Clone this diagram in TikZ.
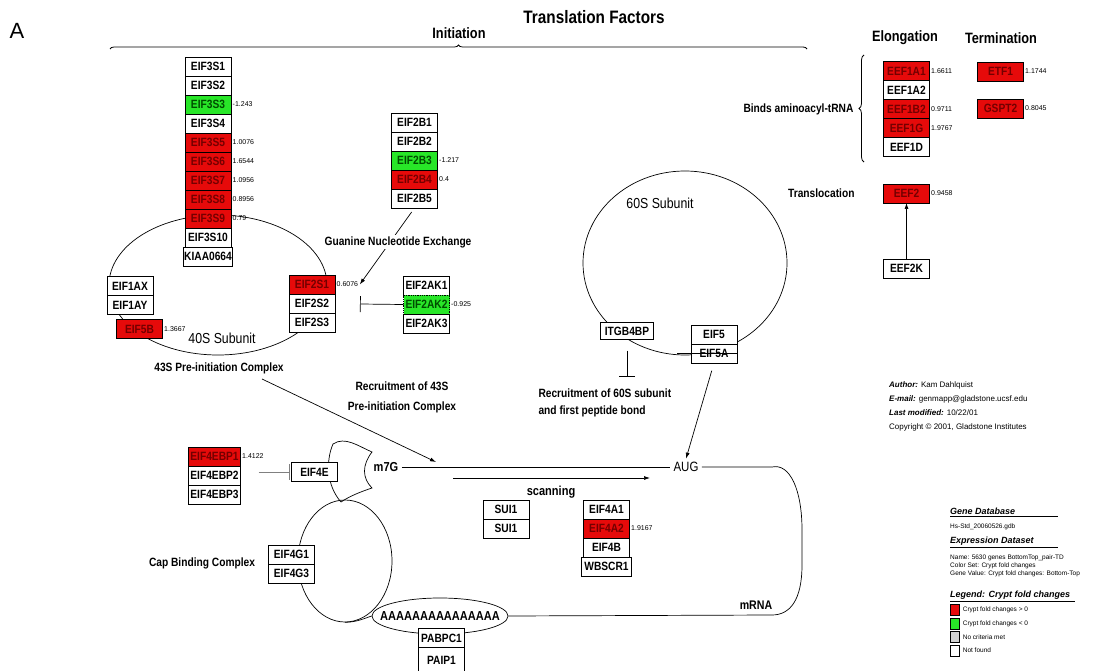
\documentclass[tikz,border=0pt]{standalone}
\usepackage{fontspec}
\setmainfont{Liberation Sans}
\newfontfamily\narrowsans[FakeStretch=0.85]{Liberation Sans}
\usetikzlibrary{arrows.meta,positioning,shapes.geometric,decorations.pathreplacing}

\definecolor{foldup}{RGB}{230,10,10}
\definecolor{folddown}{RGB}{40,230,40}
\definecolor{nocriteria}{RGB}{210,210,210}

\begin{document}
\begin{tikzpicture}[
    x=1pt, y=-1pt,
    node distance=0pt,
    arrow/.style={line width=0.7pt, -{Latex[length=6pt,width=4pt]}},
    inhibit/.style={line width=0.7pt, -{Bar[width=16pt]}},
    gene/.style={draw, line width=0.8pt, fill=white, minimum width=46pt, minimum height=19pt, inner sep=1pt, outer sep=0pt, font=\narrowsans\bfseries\fontsize{12}{12}\selectfont},
    up/.style={gene, fill=foldup, text=red!45!black},
    down/.style={gene, fill=folddown, text=green!30!black},
    value/.style={font=\fontsize{7}{7}\selectfont, inner sep=1.5pt, text=black},
    heading/.style={font=\narrowsans\bfseries\fontsize{12}{12}\selectfont},
    subunit/.style={draw, line width=0.7pt, ellipse, inner sep=0pt},
    legend/.style={anchor=west, inner sep=0pt, font=\fontsize{6.5}{7}\selectfont},
    legend title/.style={anchor=west, inner sep=0pt, font=\bfseries\itshape\fontsize{9}{9}\selectfont},
    swatch/.style={draw, line width=0.6pt, minimum width=9pt, minimum height=11pt, inner sep=0pt},
  ]
\useasboundingbox (0,0) rectangle (1111,671);

% subunits and mRNA loop
\node[subunit, minimum width=218pt, minimum height=140pt] (small subunit) at (218,285) {};
\node[subunit, minimum width=204pt, minimum height=184pt] (large subunit) at (685,263) {};
\node[subunit, minimum width=94pt, minimum height=122pt] (cap circle) at (345,561) {};
\node[subunit, minimum width=136pt, minimum height=36pt] (poly a) at (440,616) {};
\node[font=\narrowsans\bfseries\fontsize{13}{13}\selectfont] (poly a text) at (poly a) {AAAAAAAAAAAAAAA};
\draw[line width=0.7pt] (333,444) .. controls (345,436) and (358,446) .. (372,452) .. controls (362,465) and (362,478) .. (372,488) .. controls (360,492) and (350,496) .. (341,502) .. controls (326,485) and (326,460) .. (333,444) -- cycle;

% titles
\node[font=\fontsize{22}{22}\selectfont] (panel) at (17,31) {A};
\node[font=\narrowsans\bfseries\fontsize{18}{18}\selectfont] (translation) at (594,17) {Translation Factors};
\node[font=\narrowsans\bfseries\fontsize{15}{15}\selectfont] (initiation) at (459,33) {Initiation};
\node[font=\narrowsans\bfseries\fontsize{15}{15}\selectfont] (elongation) at (905,38) {Elongation};
\node[font=\narrowsans\bfseries\fontsize{15}{15}\selectfont] (termination) at (1001,38) {Termination};
\coordinate (init left) at (110,49);
\coordinate (init right) at (807,49);
\draw[decorate, decoration={brace, amplitude=4pt}, thick] (init left) -- (init right);

% eIF3
\node[gene] (eif3s1) at (208,66.5) {EIF3S1};
\node[gene, below=of eif3s1] (eif3s2) {EIF3S2};
\node[down, below=of eif3s2, label={[value]right:-1.243}] (eif3s3) {EIF3S3};
\node[gene, below=of eif3s3] (eif3s4) {EIF3S4};
\node[up, below=of eif3s4, label={[value]right:1.0076}] (eif3s5) {EIF3S5};
\node[up, below=of eif3s5, label={[value]right:1.6544}] (eif3s6) {EIF3S6};
\node[up, below=of eif3s6, label={[value]right:1.0956}] (eif3s7) {EIF3S7};
\node[up, below=of eif3s7, label={[value]right:0.8956}] (eif3s8) {EIF3S8};
\node[up, below=of eif3s8, label={[value]right:0.79}] (eif3s9) {EIF3S9};
\node[gene, below=of eif3s9] (eif3s10) {EIF3S10};
\node[gene, below=of eif3s10] (kiaa0664) {KIAA0664};

% eIF2B
\node[gene] (eif2b1) at (414.5,122.5) {EIF2B1};
\node[gene, below=of eif2b1] (eif2b2) {EIF2B2};
\node[down, below=of eif2b2, label={[value]right:-1.217}] (eif2b3) {EIF2B3};
\node[up, below=of eif2b3, label={[value]right:0.4}] (eif2b4) {EIF2B4};
\node[gene, below=of eif2b4] (eif2b5) {EIF2B5};

% eIF2 and kinases
\node[up, label={[value, name=eif2s1 value]right:0.6076}] (eif2s1) at (312,284.5) {EIF2S1};
\node[gene, below=of eif2s1] (eif2s2) {EIF2S2};
\node[gene, below=of eif2s2] (eif2s3) {EIF2S3};
\node[gene] (eif2ak1) at (426.5,285.5) {EIF2AK1};
\node[down, densely dotted, below=of eif2ak1, label={[value]right:-0.925}] (eif2ak2) {EIF2AK2};
\node[gene, below=of eif2ak2] (eif2ak3) {EIF2AK3};
\coordinate (ak bar) at (360,304);

\node[gene] (eif1ax) at (130,286) {EIF1AX};
\node[gene, below=of eif1ax] (eif1ay) {EIF1AY};
\node[up, label={[value]right:1.3667}] (eif5b) at (139.5,329) {EIF5B};

\draw[arrow, shorten <=5pt] (eif2b5.south) -- (eif2s1 value.east);
\node[heading, fill=white, inner sep=1pt] (guanine) at (398,242) {Guanine Nucleotide Exchange};
\draw[inhibit] (eif2ak2.west) -- (ak bar);

\node[font=\narrowsans\fontsize{14.5}{14.5}\selectfont] (small label) at (222,338) {40S Subunit};
\node[heading] (preinit) at (219,368) {43S Pre-initiation Complex};
\node[heading, font=\narrowsans\bfseries\fontsize{12}{20}\selectfont, align=center] (recruit 43s) at (402,397) {Recruitment of 43S\\Pre-initiation Complex};
\coordinate (recruit start) at (262,379);
\coordinate (recruit end) at (436,462);
\draw[arrow] (recruit start) -- (recruit end);

% 60S
\node[font=\narrowsans\fontsize{14.5}{14.5}\selectfont] (large label) at (660,203) {60S Subunit};
\node[gene, minimum width=53pt, minimum height=17pt] (itgb4bp) at (627,331) {ITGB4BP};
\node[gene] (eif5) at (714,334.5) {EIF5};
\node[gene, below=of eif5] (eif5a) {EIF5A};
\draw[line width=0.7pt] ([xshift=-14pt]eif5a.west) -- (eif5a.east);
\coordinate (itgb4bp bar) at (627,377);
\draw[inhibit, shorten <=11pt] (itgb4bp.south) -- (itgb4bp bar);
\node[heading, font=\narrowsans\bfseries\fontsize{12}{17}\selectfont, align=left, anchor=west] (recruit 60s) at (535,403) {Recruitment of 60S subunit\\and first peptide bond};

% mRNA
\node[font=\narrowsans\bfseries\fontsize{13}{13}\selectfont] (m7g) at (386,467) {m7G};
\node[font=\narrowsans\fontsize{13.5}{13.5}\selectfont] (aug) at (686,467) {AUG};
\node[font=\narrowsans\bfseries\fontsize{12.5}{12.5}\selectfont] (mrna) at (756,605) {mRNA};
\coordinate (mrna top) at (772,467);
\coordinate (mrna bottom) at (772,615);
\draw[line width=0.7pt] (m7g.east) -- (aug.west);
\draw[line width=0.7pt] (aug.east) -- (mrna top) .. controls (790,463) and (802,490) .. (802,530) -- (802,565) .. controls (802,600) and (790,615) .. (mrna bottom) -- (poly a.east);
\draw[line width=0.7pt] (cap circle.south) .. controls (358,622) and (365,618) .. (poly a.west);
\draw[arrow, shorten <=8pt] (eif5a.south) -- (aug.north);

\coordinate (scan start) at (453,478);
\coordinate (scan end) at (650,478);
\draw[arrow] (scan start) -- (scan end);
\node[font=\narrowsans\bfseries\fontsize{13}{13}\selectfont] (scanning) at (551,492) {scanning};

\node[gene] (sui1 a) at (506,509.5) {SUI1};
\node[gene, below=of sui1 a] (sui1 b) {SUI1};
\node[gene] (eif4a1) at (606.5,509.5) {EIF4A1};
\node[up, below=of eif4a1, label={[value]right:1.9167}] (eif4a2) {EIF4A2};
\node[gene, below=of eif4a2] (eif4b) {EIF4B};
\node[gene, minimum width=50pt, below=of eif4b] (wbscr1) {WBSCR1};

% cap binding complex
\node[up, minimum width=52pt, label={[value]right:1.4122}] (eif4ebp1) at (214.5,456.5) {EIF4EBP1};
\node[gene, minimum width=52pt, below=of eif4ebp1] (eif4ebp2) {EIF4EBP2};
\node[gene, minimum width=52pt, below=of eif4ebp2] (eif4ebp3) {EIF4EBP3};
\node[gene] (eif4e) at (314.5,472) {EIF4E};
\draw[inhibit, gray, shorten <=18pt, shorten >=2pt] (eif4ebp2.east |- eif4e.west) -- (eif4e.west);
\node[gene] (eif4g1) at (291.5,554.5) {EIF4G1};
\node[gene, below=of eif4g1] (eif4g3) {EIF4G3};
\node[heading] (cap binding) at (202,563) {Cap Binding Complex};

\node[gene] (pabpc1) at (441.5,638) {PABPC1};
\node[gene, minimum height=26pt, below=of pabpc1] (paip1) {PAIP1};

% elongation and termination
\node[up, label={[value]right:1.6611}] (eef1a1) at (906.5,71) {EEF1A1};
\node[gene, below=of eef1a1] (eef1a2) {EEF1A2};
\node[up, below=of eef1a2, label={[value]right:0.9711}] (eef1b2) {EEF1B2};
\node[up, below=of eef1b2, label={[value]right:1.9767}] (eef1g) {EEF1G};
\node[gene, below=of eef1g] (eef1d) {EEF1D};
\node[heading, anchor=east] (binds) at (857,109) {Binds aminoacyl-tRNA};
\coordinate (trna brace bottom) at (864,162);
\coordinate (trna brace top) at (864,55);
\draw[decorate, decoration={brace, amplitude=5pt}, thick] (trna brace bottom) -- (trna brace top);

\node[up, label={[value]right:1.1744}] (etf1) at (1000.5,71.5) {ETF1};
\node[up, label={[value]right:0.8045}] (gspt2) at (1000.5,108.5) {GSPT2};

\node[heading, anchor=east] (translocation) at (858,193) {Translocation};
\node[up, label={[value]right:0.9458}] (eef2) at (906.5,193.5) {EEF2};
\node[gene] (eef2k) at (906.5,268.5) {EEF2K};
\draw[arrow] (eef2k.north) -- (eef2.south);

% credits and legend
\node[anchor=north west, align=left, inner sep=0pt, font=\fontsize{8}{14}\selectfont] (author) at (889,382) {\textbf{\textit{Author:}} Kam Dahlquist\\\textbf{\textit{E-mail:}} genmapp@gladstone.ucsf.edu\\\textbf{\textit{Last modified:}} 10/22/01\\Copyright © 2001, Gladstone Institutes};

\node[legend title] (gene db) at (950,511) {Gene Database};
\draw[thick] ([yshift=-2pt]gene db.south west) -- ++(108,0);
\node[legend] (gdb file) at (950,527) {Hs-Std\_20060526.gdb};
\node[legend title] (expr ds) at (950,541) {Expression Dataset};
\draw[thick] ([yshift=-2pt]expr ds.south west) -- ++(108,0);
\node[legend] (ds name) at (950,558) {Name: 5630 genes BottomTop\_pair-TD};
\node[legend] (ds colour) at (950,566) {Color Set: Crypt fold changes};
\node[legend] (ds value) at (950,574) {Gene Value: Crypt fold changes: Bottom-Top};
\node[legend title] (legend head) at (950,595) {Legend: Crypt fold changes};
\draw[thick] ([yshift=-2pt]legend head.south west) -- ++(125,0);
\node[swatch, fill=foldup, anchor=north west] (sw up) at (950,604) {};
\node[swatch, fill=folddown, below=2pt of sw up] (sw down) {};
\node[swatch, fill=nocriteria, below=2pt of sw down] (sw none) {};
\node[swatch, fill=white, below=2pt of sw none] (sw missing) {};
\node[legend, right=3pt of sw up] (txt up) {Crypt fold changes > 0};
\node[legend, right=3pt of sw down] (txt down) {Crypt fold changes < 0};
\node[legend, right=3pt of sw none] (txt none) {No criteria met};
\node[legend, right=3pt of sw missing] (txt missing) {Not found};
\end{tikzpicture}
\end{document}
